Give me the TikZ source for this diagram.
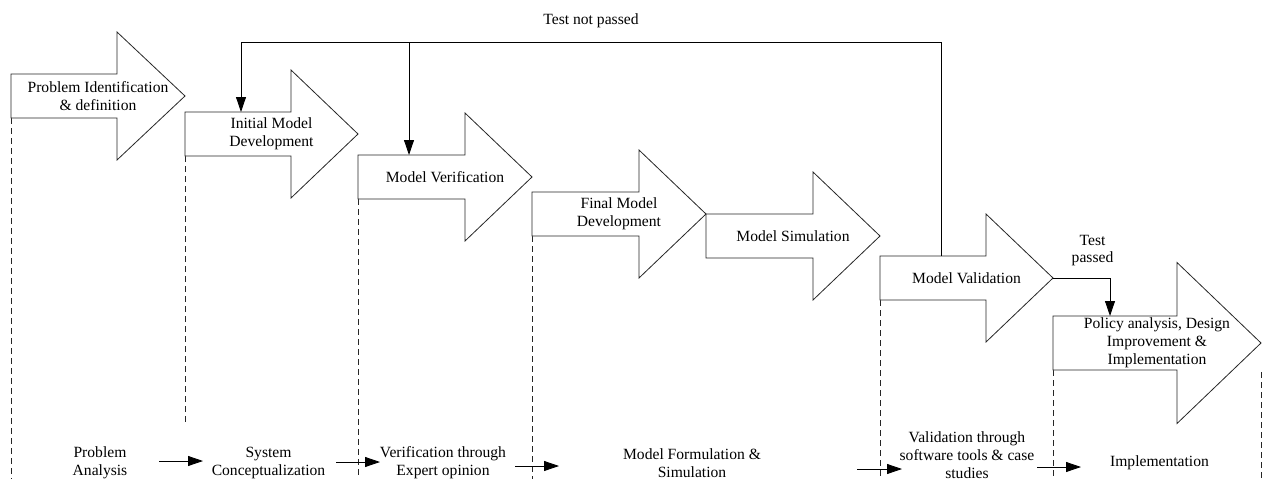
\documentclass[tikz,border=0pt]{standalone}
\usepackage{fontspec}
\setmainfont{Liberation Serif}
\usetikzlibrary{arrows.meta,calc}
\tikzset{
  shapeline/.style={draw=black!85, line width=0.8pt, line join=miter, fill=white},
  stagetext/.style={align=center, inner sep=0pt, font=\fontsize{15.6}{17.8}\selectfont},
  lbl/.style={align=center, inner sep=0pt, font=\fontsize{15.6}{17.8}\selectfont},
  guide/.style={draw=black!85, line width=0.7pt, dash pattern=on 6pt off 4pt},
  conn/.style={draw=black, line width=0.8pt, -{Triangle[length=15pt,width=10pt]}},
  plainconn/.style={draw=black, line width=0.8pt},
}
% #1 name, #2 left x, #3 centre y, #4 shaft length, #5 half shaft, #6 half head, #7 head length, #8 text
\newcommand\stagearrow[8]{%
  \draw[shapeline] ({#2},{#3-#5}) -- ({#2+#4},{#3-#5}) -- ({#2+#4},{#3-#6}) -- ({#2+#4+#7},{#3})
     -- ({#2+#4},{#3+#6}) -- ({#2+#4},{#3+#5}) -- ({#2},{#3+#5}) -- cycle;
  \coordinate (#1-tl) at ({#2},{#3-#5});
  \coordinate (#1-bl) at ({#2},{#3+#5});
  \coordinate (#1-tip) at ({#2+#4+#7},{#3});
  \node[stagetext] (#1) at ({#2+(#4+#7)/2},{#3}) {#8};
}
\begin{document}
\begin{tikzpicture}[x=1pt,y=-1pt]
\useasboundingbox (0,0) rectangle (1262,479);

% dashed guide lines (drawn first)
\coordinate (g1a) at (11,118);   \coordinate (g1b) at (11,479);
\coordinate (g2a) at (185,156);  \coordinate (g2b) at (185,424);
\coordinate (g3a) at (358,199);  \coordinate (g3b) at (358,479);
\coordinate (g4a) at (532,236);  \coordinate (g4b) at (532,479);
\coordinate (g5a) at (880,300);  \coordinate (g5b) at (880,479);
\coordinate (g6a) at (1053,370); \coordinate (g6b) at (1053,479);
\coordinate (g7a) at (1261,372); \coordinate (g7b) at (1261,479);
\foreach \i in {1,...,7} { \draw[guide] (g\i a) -- (g\i b); }

% stage arrows
\stagearrow{pid}{11}{96}{106}{22}{64}{68}{Problem Identification\\\& definition}
\stagearrow{imd}{185}{134}{106}{22}{64}{67}{Initial Model\\Development}
\stagearrow{mv}{358}{177}{107}{22}{64}{67}{Model Verification}
\stagearrow{fmd}{532}{214}{107}{22}{64}{67}{Final Model\\Development}
\stagearrow{ms}{706}{236}{107}{22}{64}{67}{Model Simulation}
\stagearrow{mval}{880}{278}{106}{22}{64}{67}{Model Validation}
\stagearrow{pol}{1053}{343}{124}{27}{80.5}{84}{Policy analysis, Design\\Improvement \&\\Implementation}

% feedback loop
\coordinate (fbR) at (941,42);
\coordinate (fbM) at (409,42);
\coordinate (fbL) at (241,42);
\draw[plainconn] (mval-tl -| fbR) -- (fbR) -- (fbL);
\draw[conn] (fbL) -- (fbL |- imd-tl);
\draw[conn] (fbM) -- (fbM |- mv-tl);
\node[lbl] (tnp) at (591,21) {Test not passed};

% test passed
\coordinate (tpk) at (1110,278);
\draw[conn] (mval-tip) -- (tpk) -- (tpk |- pol-tl);
\node[lbl] (tp) at (1092.5,250.5) {Test\\passed};

% bottom phase labels
\node[lbl] (pa)  at (100,463)   {Problem\\Analysis};
\node[lbl] (sc)  at (268.5,463) {System\\Conceptualization};
\node[lbl] (ve)  at (443,463)   {Verification through\\Expert opinion};
\node[lbl] (mf)  at (692,463)   {Model Formulation \&\\Simulation};
\node[lbl] (vs)  at (967,455)   {Validation through\\software tools \& case\\studies};
\node[lbl] (im)  at (1159.5,463){Implementation};

% bottom arrows
\coordinate (b1s) at (159,461);  \coordinate (b1e) at (203,461);
\coordinate (b2s) at (336,462);  \coordinate (b2e) at (380,462);
\coordinate (b3s) at (515,466);  \coordinate (b3e) at (559,466);
\coordinate (b4s) at (857,469);  \coordinate (b4e) at (902,469);
\coordinate (b5s) at (1037,467); \coordinate (b5e) at (1081,467);
\foreach \i in {1,...,5} { \draw[conn] (b\i s) -- (b\i e); }
\end{tikzpicture}
\end{document}
